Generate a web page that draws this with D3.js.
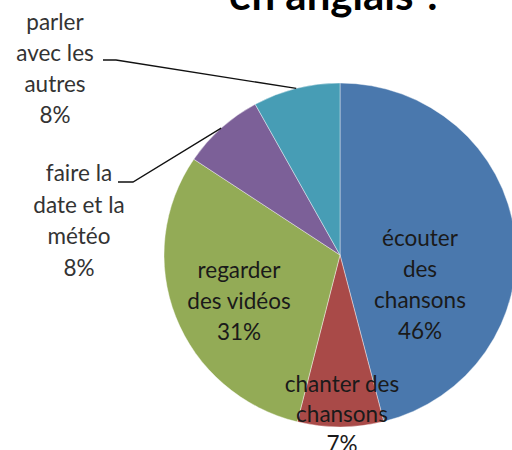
<!DOCTYPE html>
<html><head><meta charset="utf-8">
<script src="https://cdn.jsdelivr.net/npm/d3@7"></script>
<style>
html,body{margin:0;padding:0;background:#fff;}
svg{display:block;}
</style></head>
<body>
<svg id="chart" width="512" height="450"></svg>
<script>
// ---- data ----
const categories = ["écouter des chansons", "chanter des chansons", "regarder des vidéos", "faire la date et la météo", "parler avec les autres"];
const values = [46, 7.9, 30.5, 7.6, 8];            // slice sizes
const pctLabels = ["46%", "7%", "31%", "8%", "8%"]; // printed percentages
const labelLines = [
  ["écouter", "des", "chansons"],
  ["chanter des", "chansons"],
  ["regarder", "des vidéos"],
  ["faire la", "date et la", "météo"],
  ["parler", "avec les", "autres"]
];
const titleText = "en anglais ?";

// ---- layout ----
const colors = ["#4A78AD", "#A94A48", "#93AB56", "#7C6098", "#479DB5"];
const cx = 340, cy = 255, R = 172, sx = 176 / 172;
// label anchor: center x, first baseline, line step, outside?
const labelPos = [
  {x: 420, y: 246, step: 31, outside: false},
  {x: 342, y: 392, step: 30, outside: false},
  {x: 239, y: 278, step: 31, outside: false},
  {x: 79,  y: 181, step: 31.5, outside: true, lead: [118, 182, 133, 182]},
  {x: 55,  y: 30,  step: 31, outside: true, lead: [103, 60, 116, 60]}
];

const svg = d3.select("#chart");
const font = "Lato, 'Open Sans', sans-serif";

svg.append("text")
  .attr("x", 336).attr("y", 10)
  .attr("text-anchor", "middle")
  .attr("font-family", font).attr("font-weight", "bold")
  .attr("font-size", 42).attr("fill", "#000")
  .text(titleText);

const pie = d3.pie().sort(null).value(d => d)
  .startAngle(0).endAngle(2 * Math.PI);
const arcs = pie(values);
const arc = d3.arc().innerRadius(0).outerRadius(R);

const g = svg.append("g").attr("transform", `translate(${cx},${cy}) scale(${sx},1)`);
g.selectAll("path").data(arcs).join("path")
  .attr("d", arc)
  .attr("fill", (d, i) => colors[i])
  .attr("stroke", "rgba(255,255,255,0.5)")
  .attr("stroke-width", 0.8);

// leader lines
arcs.forEach((a, i) => {
  const p = labelPos[i];
  if (!p.outside) return;
  const m = (a.startAngle + a.endAngle) / 2;
  const ex = cx + sx * R * Math.sin(m), ey = cy - R * Math.cos(m);
  svg.append("polyline")
    .attr("points", `${p.lead[0]},${p.lead[1]} ${p.lead[2]},${p.lead[3]} ${ex},${ey}`)
    .attr("fill", "none").attr("stroke", "#111").attr("stroke-width", 1.3);
});

// labels
labelPos.forEach((p, i) => {
  const lines = labelLines[i].concat([pctLabels[i]]);
  const t = svg.append("text")
    .attr("text-anchor", "middle")
    .attr("font-family", font).attr("font-size", 22.5)
    .attr("fill", p.outside ? "#333" : "#1a1a1a");
  lines.forEach((s, k) => {
    t.append("tspan").attr("x", p.x).attr("y", p.y + k * p.step).text(s);
  });
});
</script>
</body></html>
